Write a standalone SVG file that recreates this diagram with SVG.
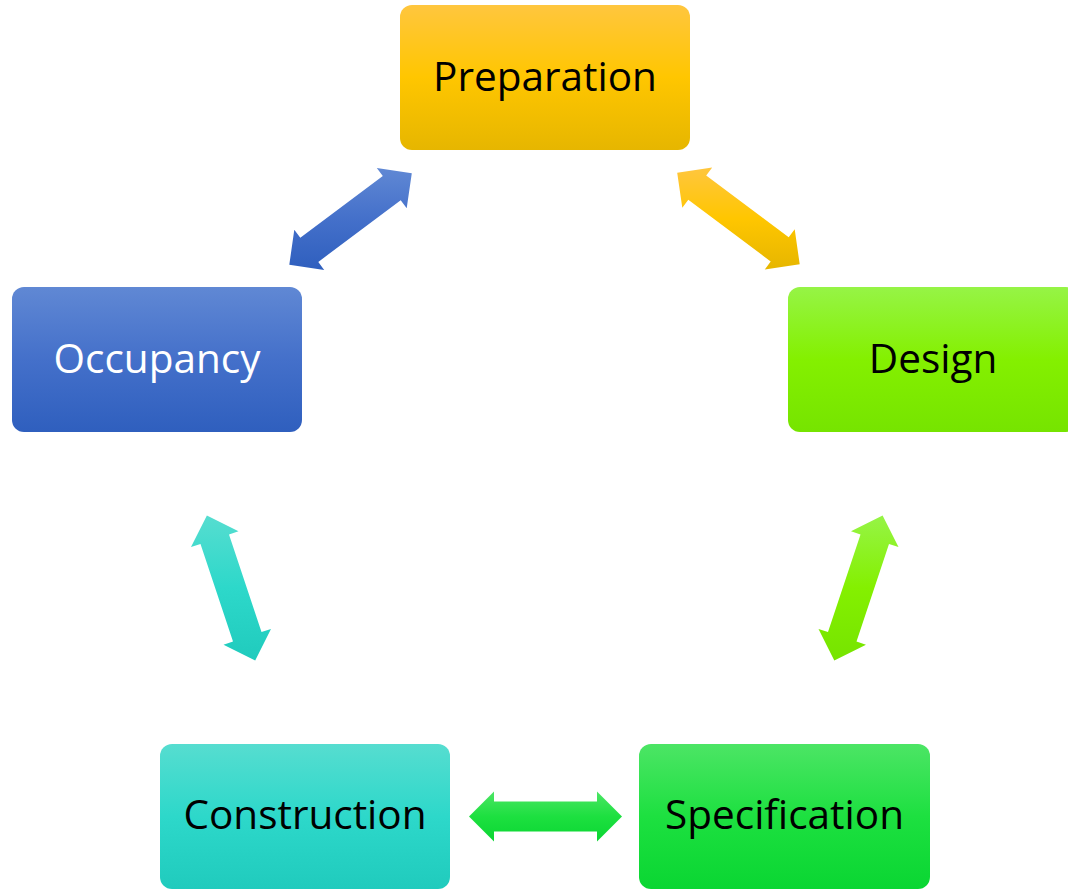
<svg xmlns="http://www.w3.org/2000/svg" width="1068" height="890" viewBox="0 0 1068 890">
  <defs>
    <linearGradient id="gYellow" x1="0" y1="0" x2="0" y2="1">
      <stop offset="0" stop-color="#FFC63E"/>
      <stop offset="0.5" stop-color="#FFC600"/>
      <stop offset="1" stop-color="#E6B600"/>
    </linearGradient>
    <linearGradient id="gBlue" x1="0" y1="0" x2="0" y2="1">
      <stop offset="0" stop-color="#6088D4"/>
      <stop offset="0.5" stop-color="#4470CA"/>
      <stop offset="1" stop-color="#2F5FBE"/>
    </linearGradient>
    <linearGradient id="gLime" x1="0" y1="0" x2="0" y2="1">
      <stop offset="0" stop-color="#96F446"/>
      <stop offset="0.5" stop-color="#84F000"/>
      <stop offset="1" stop-color="#76E400"/>
    </linearGradient>
    <linearGradient id="gTeal" x1="0" y1="0" x2="0" y2="1">
      <stop offset="0" stop-color="#56DDD0"/>
      <stop offset="0.5" stop-color="#2DD8CA"/>
      <stop offset="1" stop-color="#20CBBD"/>
    </linearGradient>
    <linearGradient id="gGreen" x1="0" y1="0" x2="0" y2="1">
      <stop offset="0" stop-color="#4CE565"/>
      <stop offset="0.5" stop-color="#1DE040"/>
      <stop offset="1" stop-color="#0AD632"/>
    </linearGradient>
  </defs>
  <style>
    .box { stroke: none; }
    .lbl { font-family: "Open Sans", "Liberation Sans", sans-serif; font-size: 40.5px; text-anchor: middle; fill: #000000; }
    .lbl.white { fill: #FFFFFF; }
    .arrow { stroke: none; }
  </style>
  <rect width="1068" height="890" fill="#FFFFFF"/>

  <g id="connectors">
    <polygon class="arrow" fill="url(#gBlue)" points="289.3,264.8 294.3,229.8 300.3,237.8 382.8,176.1 376.8,168.1 411.8,173.2 406.7,208.2 400.7,200.2 318.3,261.9 324.2,269.9"/>
    <polygon class="arrow" fill="url(#gYellow)" points="799.7,264.3 794.7,229.3 788.7,237.3 706.2,175.6 712.2,167.6 677.2,172.7 682.3,207.7 688.3,199.7 770.7,261.4 764.8,269.4"/>
    <polygon class="arrow" fill="url(#gTeal)" points="206.9,515.4 238.5,531.2 229.0,534.4 261.5,632.1 271.0,629.0 255.2,660.6 223.5,644.8 233.0,641.6 200.5,543.9 191.0,547.0"/>
    <polygon class="arrow" fill="url(#gLime)" points="882.6,515.4 851.0,531.2 860.5,534.4 828.0,632.1 818.5,629.0 834.3,660.6 866.0,644.8 856.5,641.6 889.0,543.9 898.5,547.0"/>
    <polygon class="arrow" fill="url(#gGreen)" points="469,816.5 494,791.5 494,801.5 597,801.5 597,791.5 622,816.5 597,841.5 597,831.5 494,831.5 494,841.5"/>
  </g>

  <g id="node-preparation">
    <rect class="box" x="400" y="5" width="290" height="145" rx="12" fill="url(#gYellow)"/>
    <text class="lbl" x="545" y="90.5">Preparation</text>
  </g>
  <g id="node-occupancy">
    <rect class="box" x="12" y="287" width="290" height="145" rx="12" fill="url(#gBlue)"/>
    <text class="lbl white" x="157" y="372.5">Occupancy</text>
  </g>
  <g id="node-design">
    <rect class="box" x="788" y="287" width="290" height="145" rx="12" fill="url(#gLime)"/>
    <text class="lbl" x="933" y="372.5">Design</text>
  </g>
  <g id="node-construction">
    <rect class="box" x="160" y="744" width="290" height="145" rx="12" fill="url(#gTeal)"/>
    <text class="lbl" x="305" y="829">Construction</text>
  </g>
  <g id="node-specification">
    <rect class="box" x="639" y="744" width="291" height="145" rx="12" fill="url(#gGreen)"/>
    <text class="lbl" x="784.5" y="829">Specification</text>
  </g>
</svg>
